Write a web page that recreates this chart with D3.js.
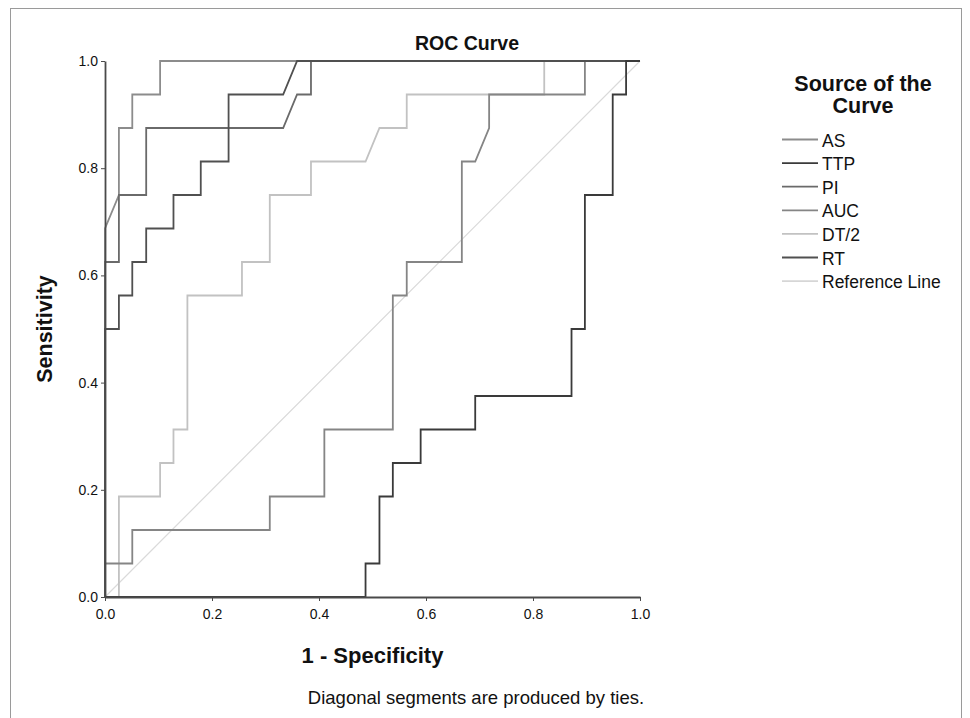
<!DOCTYPE html>
<html>
<head>
<meta charset="utf-8">
<script src="https://cdn.jsdelivr.net/npm/d3@7/dist/d3.min.js"></script>
<style>
    body { margin: 0; background: #fff; }
    text { font-family: "Liberation Sans", Arial, sans-serif; fill: #111; }
</style>
</head>
<body>
<div id="chart"></div>
<script>
// ROC curves - 1 - specificity (x) against sensitivity (y)

var seriesNames = ['AS', 'TTP', 'PI', 'AUC', 'DT/2', 'RT'];
var seriesColors = ['#8c8c8c', '#3a3a3a', '#6a6a6a', '#858585', '#c2c2c2', '#505050'];

var asX = [0, 0, 0.026, 0.026, 0.051, 0.051, 0.103, 0.103, 1];
var asY = [0, 0.6875, 0.75, 0.875, 0.875, 0.9375, 0.9375, 1, 1];

var ttpX = [0, 0.487, 0.487, 0.513, 0.513, 0.538, 0.538, 0.590, 0.590, 0.692, 0.692, 0.872, 0.872, 0.897, 0.897, 0.949, 0.949, 0.974, 0.974, 1];
var ttpY = [0, 0, 0.0625, 0.0625, 0.1875, 0.1875, 0.25, 0.25, 0.3125, 0.3125, 0.375, 0.375, 0.5, 0.5, 0.75, 0.75, 0.9375, 0.9375, 1, 1];

var piX = [0, 0, 0.026, 0.026, 0.077, 0.077, 0.333, 0.359, 0.385, 0.385, 1];
var piY = [0, 0.625, 0.625, 0.75, 0.75, 0.875, 0.875, 0.9375, 0.9375, 1, 1];

var aucX = [0, 0, 0.051, 0.051, 0.308, 0.308, 0.410, 0.410, 0.538, 0.538, 0.564, 0.564, 0.667, 0.667, 0.692, 0.718, 0.718, 0.897, 0.897, 1];
var aucY = [0, 0.0625, 0.0625, 0.125, 0.125, 0.1875, 0.1875, 0.3125, 0.3125, 0.5625, 0.5625, 0.625, 0.625, 0.8125, 0.8125, 0.875, 0.9375, 0.9375, 1, 1];

var dtX = [0, 0.026, 0.026, 0.103, 0.103, 0.128, 0.128, 0.154, 0.154, 0.256, 0.256, 0.308, 0.308, 0.385, 0.385, 0.487, 0.513, 0.564, 0.564, 0.821, 0.821, 1];
var dtY = [0, 0, 0.1875, 0.1875, 0.25, 0.25, 0.3125, 0.3125, 0.5625, 0.5625, 0.625, 0.625, 0.75, 0.75, 0.8125, 0.8125, 0.875, 0.875, 0.9375, 0.9375, 1, 1];

var rtX = [0, 0, 0.026, 0.026, 0.051, 0.051, 0.077, 0.077, 0.128, 0.128, 0.179, 0.179, 0.231, 0.231, 0.333, 0.359, 1];
var rtY = [0, 0.5, 0.5, 0.5625, 0.5625, 0.625, 0.625, 0.6875, 0.6875, 0.75, 0.75, 0.8125, 0.8125, 0.9375, 0.9375, 1, 1];

var refX = [0, 1];
var refY = [0, 1];

var tickValues = [0, 0.2, 0.4, 0.6, 0.8, 1.0];

function drawRocChart() {
    var width = 970,
        height = 718;

    var margin = { top: 61, right: 330, bottom: 121, left: 105 };
    var w = width - margin.left - margin.right;   // 535
    var h = height - margin.top - margin.bottom;  // 536

    var svg = d3.select('#chart').append("svg")
        .attr("width", width)
        .attr("height", height);

    // outer frame
    svg.append("rect")
        .attr("x", 10.5)
        .attr("y", 8.5)
        .attr("width", 951)
        .attr("height", 730)
        .attr("fill", "none")
        .attr("stroke", "#9a9a9a")
        .attr("stroke-width", 1);

    var g = svg.append("g")
        .attr("transform", "translate(" + margin.left + "," + margin.top + ")");

    var x = d3.scaleLinear().domain([0, 1]).range([0, w]);
    var y = d3.scaleLinear().domain([0, 1]).range([h, 0]);

    var line = d3.line()
        .x(function (d) { return x(d[0]); })
        .y(function (d) { return y(d[1]); });

    // reference line first so curves sit on top
    g.append("path")
        .datum(d3.zip(refX, refY))
        .attr("d", line)
        .attr("fill", "none")
        .attr("stroke", "#dadada")
        .attr("stroke-width", 1.2);

    var series = [
        d3.zip(asX, asY),
        d3.zip(ttpX, ttpY),
        d3.zip(piX, piY),
        d3.zip(aucX, aucY),
        d3.zip(dtX, dtY),
        d3.zip(rtX, rtY)
    ];
    var drawOrder = [4, 3, 0, 2, 5, 1];   // lighter ones underneath

    drawOrder.forEach(function (i) {
        g.append("path")
            .datum(series[i])
            .attr("d", line)
            .attr("fill", "none")
            .attr("stroke", seriesColors[i])
            .attr("stroke-width", 1.8)
            .attr("stroke-linejoin", "miter");
    });

    // axes
    var yAxis = d3.axisLeft(y).tickValues(tickValues).tickFormat(d3.format(".1f"))
        .tickSizeInner(4).tickSizeOuter(0).tickPadding(3);
    var xAxis = d3.axisBottom(x).tickValues(tickValues).tickFormat(d3.format(".1f"))
        .tickSizeInner(4).tickSizeOuter(0).tickPadding(8);

    var ya = g.append("g").call(yAxis);
    var xa = g.append("g").attr("transform", "translate(0," + h + ")").call(xAxis);

    [ya, xa].forEach(function (a) {
        a.select(".domain").attr("stroke", "#4a4a4a").attr("stroke-width", 1.8);
        a.selectAll(".tick line").attr("stroke", "#4a4a4a");
        a.selectAll(".tick text")
            .attr("font-family", '"Liberation Sans", Arial, sans-serif')
            .attr("font-size", 14)
            .attr("fill", "#222");
    });

    // titles
    svg.append("text")
        .attr("x", 467)
        .attr("y", 50)
        .attr("text-anchor", "middle")
        .attr("font-size", 19.5)
        .attr("font-weight", "bold")
        .text("ROC Curve");

    svg.append("text")
        .attr("x", margin.left + w / 2)
        .attr("y", 663)
        .attr("text-anchor", "middle")
        .attr("font-size", 22)
        .attr("font-weight", "bold")
        .text("1 - Specificity");

    svg.append("text")
        .attr("transform", "translate(52," + (margin.top + h / 2) + ") rotate(-90)")
        .attr("text-anchor", "middle")
        .attr("font-size", 21.5)
        .attr("font-weight", "bold")
        .text("Sensitivity");

    svg.append("text")
        .attr("x", 476)
        .attr("y", 704)
        .attr("text-anchor", "middle")
        .attr("font-size", 18.5)
        .text("Diagonal segments are produced by ties.");

    // legend
    var lg = svg.append("g");
    lg.append("text")
        .attr("x", 863).attr("y", 91)
        .attr("text-anchor", "middle")
        .attr("font-size", 21.5)
        .attr("font-weight", "bold")
        .text("Source of the");
    lg.append("text")
        .attr("x", 863).attr("y", 113)
        .attr("text-anchor", "middle")
        .attr("font-size", 21.5)
        .attr("font-weight", "bold")
        .text("Curve");

    var legendNames = seriesNames.concat(['Reference Line']);
    var legendColors = seriesColors.concat(['#d6d6d6']);

    var item = lg.selectAll(".item")
        .data(legendNames)
        .enter().append("g")
        .attr("class", "item")
        .attr("transform", function (d, i) { return "translate(0," + (139.5 + i * 23.6) + ")"; });

    item.append("line")
        .attr("x1", 782).attr("x2", 818)
        .attr("stroke", function (d, i) { return legendColors[i]; })
        .attr("stroke-width", 1.8);

    item.append("text")
        .attr("x", 822)
        .attr("y", 7)
        .attr("font-size", 17.5)
        .attr("fill", "#333")
        .text(function (d) { return d; });
}

drawRocChart();
</script>
</body>
</html>
